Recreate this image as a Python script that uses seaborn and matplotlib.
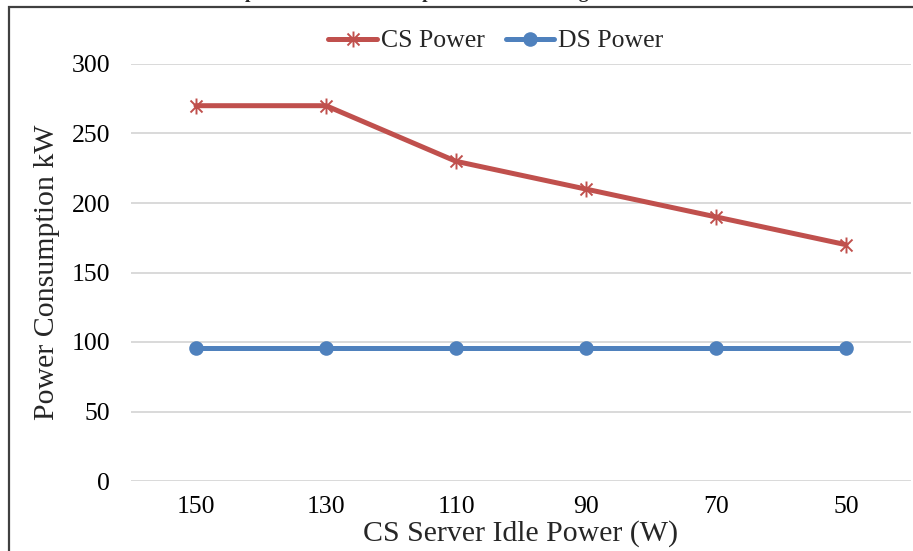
import numpy as np
import pandas as pd
import matplotlib
matplotlib.use("Agg")
import matplotlib.pyplot as plt
from matplotlib.path import Path
from matplotlib.patches import Rectangle
import seaborn as sns

# Data
idle_power = ["150", "130", "110", "90", "70", "50"]
cs_power = [270, 270, 230, 210, 190, 170]
ds_power = [96, 96, 96, 96, 96, 96]

CS_COLOR = "#C0504D"
DS_COLOR = "#4F81BD"

sns.set_style("white")
plt.rcParams["font.family"] = ["Liberation Serif", "DejaVu Serif"]

W, H = 913, 551
fig = plt.figure(figsize=(W / 100, H / 100), dpi=100)
ax = fig.add_axes([131 / W, (H - 481) / H, 780 / W, (481 - 64) / H])

# Asterisk marker: vertical stroke plus an X
star = Path(
    [(0, -1), (0, 1), (-0.75, -0.75), (0.75, 0.75), (-0.75, 0.75), (0.75, -0.75)],
    [Path.MOVETO, Path.LINETO, Path.MOVETO, Path.LINETO, Path.MOVETO, Path.LINETO],
)

df_cs = pd.DataFrame({"x": idle_power, "y": cs_power})
df_ds = pd.DataFrame({"x": idle_power, "y": ds_power})

sns.lineplot(data=df_cs, x="x", y="y", sort=False, ax=ax, color=CS_COLOR,
             linewidth=3.6, marker=star, markersize=11.5, markeredgewidth=1.4,
             markeredgecolor=CS_COLOR, markerfacecolor="none", label="CS Power")
sns.lineplot(data=df_ds, x="x", y="y", sort=False, ax=ax, color=DS_COLOR,
             linewidth=3.6, marker="o", markersize=10.5, markeredgewidth=0,
             markerfacecolor=DS_COLOR, label="DS Power")

ax.set_xlim(-0.5, 5.5)
ax.set_ylim(0, 300)
ax.set_yticks(np.arange(0, 301, 50))
ax.yaxis.grid(True, color="#D9D9D9", linewidth=1.4)
ax.xaxis.grid(False)
ax.set_axisbelow(True)
for s in ax.spines.values():
    s.set_visible(False)
ax.tick_params(axis="both", length=0, labelsize=18.5, colors="black")
ax.tick_params(axis="y", pad=15)
ax.tick_params(axis="x", pad=11)

ax.set_xlabel("CS Server Idle Power (W)", fontsize=21.5, labelpad=1)
ax.set_ylabel("Power Consumption kW", fontsize=21.5, labelpad=8.5)

ax.get_legend().remove()
handles, labels = ax.get_legend_handles_labels()
fig.legend(handles, labels, loc="center", bbox_to_anchor=(496 / W, 1 - 41 / H),
           ncol=2, frameon=False, fontsize=18.5, handlelength=1.9,
           handletextpad=0.15, columnspacing=0.8, borderpad=0, borderaxespad=0)

# Chart frame
frame = Rectangle((9 / W, -0.1), 1.2, 1 - 7 / H + 0.1, transform=fig.transFigure,
                  fill=False, edgecolor="#404040", linewidth=1.6, zorder=-1)
fig.patches.append(frame)

# Title (sits above the chart area)
fig.text(205 / W, 1 + 1.5 / H, "Computer Power Consumption vs Idle Setting",
         fontsize=14, fontweight="bold", ha="left", va="baseline")

fig.savefig("out.png", dpi=100)
